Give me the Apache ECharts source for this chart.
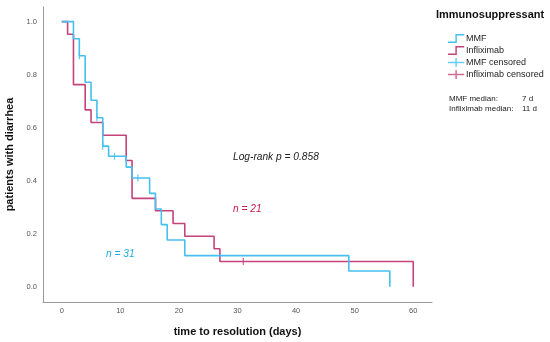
<!DOCTYPE html>
<html>
<head>
<meta charset="utf-8">
<script src="https://cdn.jsdelivr.net/npm/echarts@6/dist/echarts.min.js"></script>
<style>
html,body{margin:0;padding:0;background:#fff;}
#c{width:550px;height:342px;}
</style>
</head>
<body>
<div id="c"></div>
<script>
// ---- data ----
const mmfTimes   = [0, 2, 3, 4, 5, 6, 7, 8, 11, 12, 15, 16, 17, 18, 21, 49, 56];
const mmfSurv    = [1.0, 0.935, 0.871, 0.771, 0.703, 0.637, 0.530, 0.492, 0.451, 0.410, 0.352, 0.293, 0.234, 0.176, 0.117, 0.059, 0.0];
const inflTimes  = [0, 1, 2, 4, 5, 7, 11, 12, 16, 19, 21, 26, 27, 60];
const inflSurv   = [1.0, 0.952, 0.762, 0.667, 0.619, 0.571, 0.476, 0.333, 0.286, 0.238, 0.190, 0.143, 0.095, 0.0];
const mmfCensTimes  = [3, 6, 7, 9, 13];
const mmfCensSurv   = [0.871, 0.637, 0.530, 0.492, 0.410];
const inflCensTimes = [31];
const inflCensSurv  = [0.095];
const xTicks = [0, 10, 20, 30, 40, 50, 60];
const yTicks = [0, 0.2, 0.4, 0.6, 0.8, 1.0];
const seriesNames = ['MMF', 'Infliximab', 'MMF censored', 'Infliximab censored'];
const medianLabels = ['MMF median:', 'Infliximab median:'];
const medianValues = ['7 d', '11 d'];

const BLUE = '#45c0f0';
const RED = '#c4437a';
const FONT = '"Liberation Sans", Arial, sans-serif';

const zip = (a, b) => a.map((v, i) => [v, b[i]]);

const stepIcon = 'path://M0,8.4 L8.2,8.4 L8.2,0 L18,0 L18,1.6 L9.8,1.6 L9.8,10 L0,10 Z';
const crossIcon = 'path://M0,4.2 L8.2,4.2 L8.2,0 L9.8,0 L9.8,4.2 L18,4.2 L18,5.8 L9.8,5.8 L9.8,10 L8.2,10 L8.2,5.8 L0,5.8 Z';

const chart = echarts.init(document.getElementById('c'), null, {renderer: 'canvas'});
chart.setOption({
  animation: false,
  backgroundColor: '#fff',
  textStyle: {fontFamily: FONT},
  grid: {left: 43, right: 118, top: 7, bottom: 40, containLabel: false, outerBoundsMode: 'none'},
  xAxis: {
    type: 'value', min: -3.2, max: 63.2,
    name: 'time to resolution (days)', nameLocation: 'middle', nameGap: 24,
    nameTextStyle: {fontFamily: FONT, fontWeight: 'bold', fontSize: 11, color: '#111'},
    axisLine: {show: true, onZero: false, lineStyle: {color: '#999', width: 1}},
    axisTick: {show: false},
    splitLine: {show: false},
    axisLabel: {customValues: xTicks, color: '#555', fontSize: 7.5, margin: 5, fontFamily: FONT}
  },
  yAxis: {
    type: 'value', min: -0.058, max: 1.055,
    name: 'patients with diarrhea', nameLocation: 'middle', nameGap: 21, nameRotate: 90,
    nameTextStyle: {fontFamily: FONT, fontWeight: 'bold', fontSize: 11, color: '#111'},
    axisLine: {show: true, onZero: false, lineStyle: {color: '#999', width: 1}},
    axisTick: {show: false},
    splitLine: {show: false},
    axisLabel: {customValues: yTicks, color: '#555', fontSize: 7.5, margin: 6, fontFamily: FONT,
      formatter: v => v.toFixed(1)}
  },
  legend: {
    orient: 'vertical', left: 443, top: 29, itemWidth: 18, itemHeight: 9, itemGap: 3,
    textStyle: {fontFamily: FONT, fontSize: 9, color: '#222', padding: [0, 0, 0, -4]},
    data: [
      {name: seriesNames[0], icon: stepIcon},
      {name: seriesNames[1], icon: stepIcon},
      {name: seriesNames[2], icon: crossIcon},
      {name: seriesNames[3], icon: crossIcon}
    ]
  },
  series: [
    {name: seriesNames[0], type: 'line', step: 'end', data: zip(mmfTimes, mmfSurv),
      showSymbol: false, symbol: 'none', color: BLUE, lineStyle: {color: BLUE, width: 1.6}, z: 3},
    {name: seriesNames[1], type: 'line', step: 'end', data: zip(inflTimes, inflSurv),
      showSymbol: false, symbol: 'none', color: RED, lineStyle: {color: RED, width: 1.6}, z: 2},
    {name: seriesNames[2], type: 'scatter', data: zip(mmfCensTimes, mmfCensSurv),
      symbol: 'rect', symbolSize: [1.3, 7], color: BLUE, itemStyle: {color: BLUE}, z: 4},
    {name: seriesNames[3], type: 'scatter', data: zip(inflCensTimes, inflCensSurv),
      symbol: 'rect', symbolSize: [1.3, 7], color: RED, itemStyle: {color: RED}, z: 4}
  ],
  graphic: [
    {type: 'text', left: 436, top: 9, style: {text: 'Immunosuppressant', font: 'bold 11px ' + FONT, fill: '#111'}},
    {type: 'text', left: 449, top: 95, style: {text: medianLabels[0], font: '8px ' + FONT, fill: '#222'}},
    {type: 'text', left: 449, top: 104.5, style: {text: medianLabels[1], font: '8px ' + FONT, fill: '#222'}},
    {type: 'text', left: 522, top: 95, style: {text: medianValues[0], font: '8px ' + FONT, fill: '#222'}},
    {type: 'text', left: 522, top: 104.5, style: {text: medianValues[1], font: '8px ' + FONT, fill: '#222'}},
    {type: 'text', left: 233, top: 152, style: {text: 'Log-rank p = 0.858', font: 'italic 10.2px ' + FONT, fill: '#222'}},
    {type: 'text', left: 233, top: 204, style: {text: 'n = 21', font: 'italic 10.2px ' + FONT, fill: '#c8194d'}},
    {type: 'text', left: 106, top: 249, style: {text: 'n = 31', font: 'italic 10.2px ' + FONT, fill: '#1ca9e2'}}
  ]
});
</script>
</body>
</html>
